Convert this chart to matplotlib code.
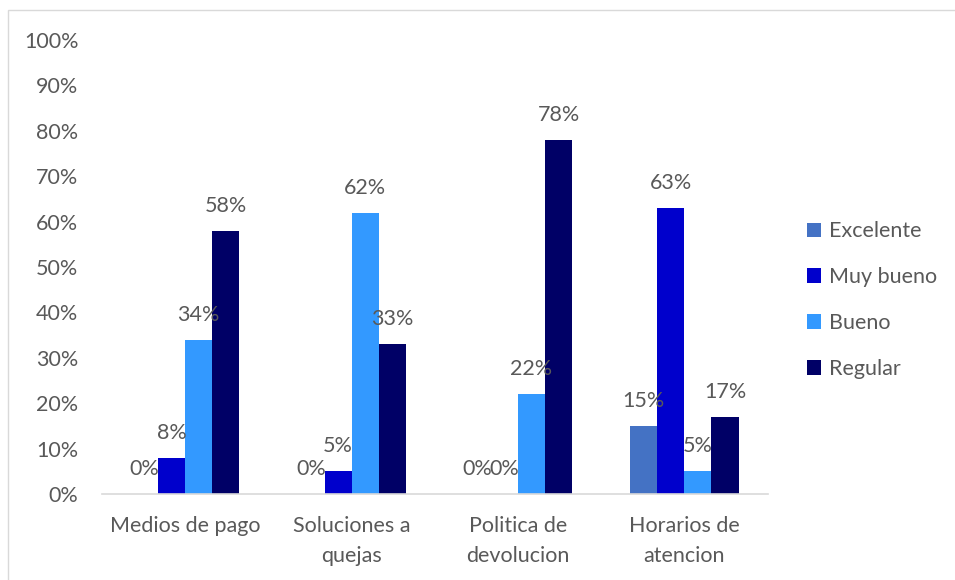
import matplotlib.pyplot as plt
import numpy as np
from matplotlib.patches import Rectangle

# survey results per aspect (percent)
categories = ["Medios de pago", "Soluciones a\nquejas", "Politica de\ndevolucion", "Horarios de\natencion"]
series = ["Excelente", "Muy bueno", "Bueno", "Regular"]
excelente = [0, 0, 0, 15]
muy_bueno = [8, 5, 0, 63]
bueno = [34, 62, 22, 5]
regular = [58, 33, 78, 17]
values = [excelente, muy_bueno, bueno, regular]
colors = ["#4472C4", "#0000CC", "#3399FF", "#000066"]

text_color = "#595959"
fs = 15.5
plt.rcParams['font.family'] = ['Lato', 'DejaVu Sans']

fig = plt.figure(figsize=(9.55, 5.8), dpi=100)
ax = fig.add_axes([0.1068, 0.1483, 0.697, 0.7827])

# outer chart border
fig.patches.append(Rectangle((8 / 955, -0.05), 1.0, 1 - 10 / 580 + 0.05,
                             transform=fig.transFigure, fill=False,
                             edgecolor="#D9D9D9", linewidth=1.0))

x = np.arange(len(categories))
width = 0.1625
for i, (name, vals, c) in enumerate(zip(series, values, colors)):
    pos = x + (i - 1.5) * width
    ax.bar(pos, vals, width, color=c, label=name)
    for px, v in zip(pos, vals):
        ax.annotate(f"{v}%", (px, v), xytext=(0, 18), textcoords="offset points",
                    ha="center", va="center", fontsize=fs, color=text_color)

ax.set_xlim(-0.5, len(categories) - 0.5)
ax.set_ylim(0, 100)
ax.set_yticks(range(0, 101, 10))
ax.set_yticklabels([f"{t}%" for t in range(0, 101, 10)])
ax.set_xticks(x)
ax.set_xticklabels(categories, linespacing=1.6)

for s in ["top", "right", "left"]:
    ax.spines[s].set_visible(False)
ax.spines["bottom"].set_color("#D9D9D9")
ax.spines["bottom"].set_linewidth(1.2)
ax.tick_params(axis="y", length=0, pad=17, labelsize=fs, labelcolor=text_color)
ax.tick_params(axis="x", length=0, pad=16, labelsize=fs, labelcolor=text_color)

ax.legend(loc="center left", bbox_to_anchor=(1.03, 0.427), frameon=False,
          fontsize=fs, labelcolor=text_color, handlelength=0.65, handleheight=0.65,
          handletextpad=0.35, labelspacing=1.2)

fig.savefig("out.png", dpi=100)
